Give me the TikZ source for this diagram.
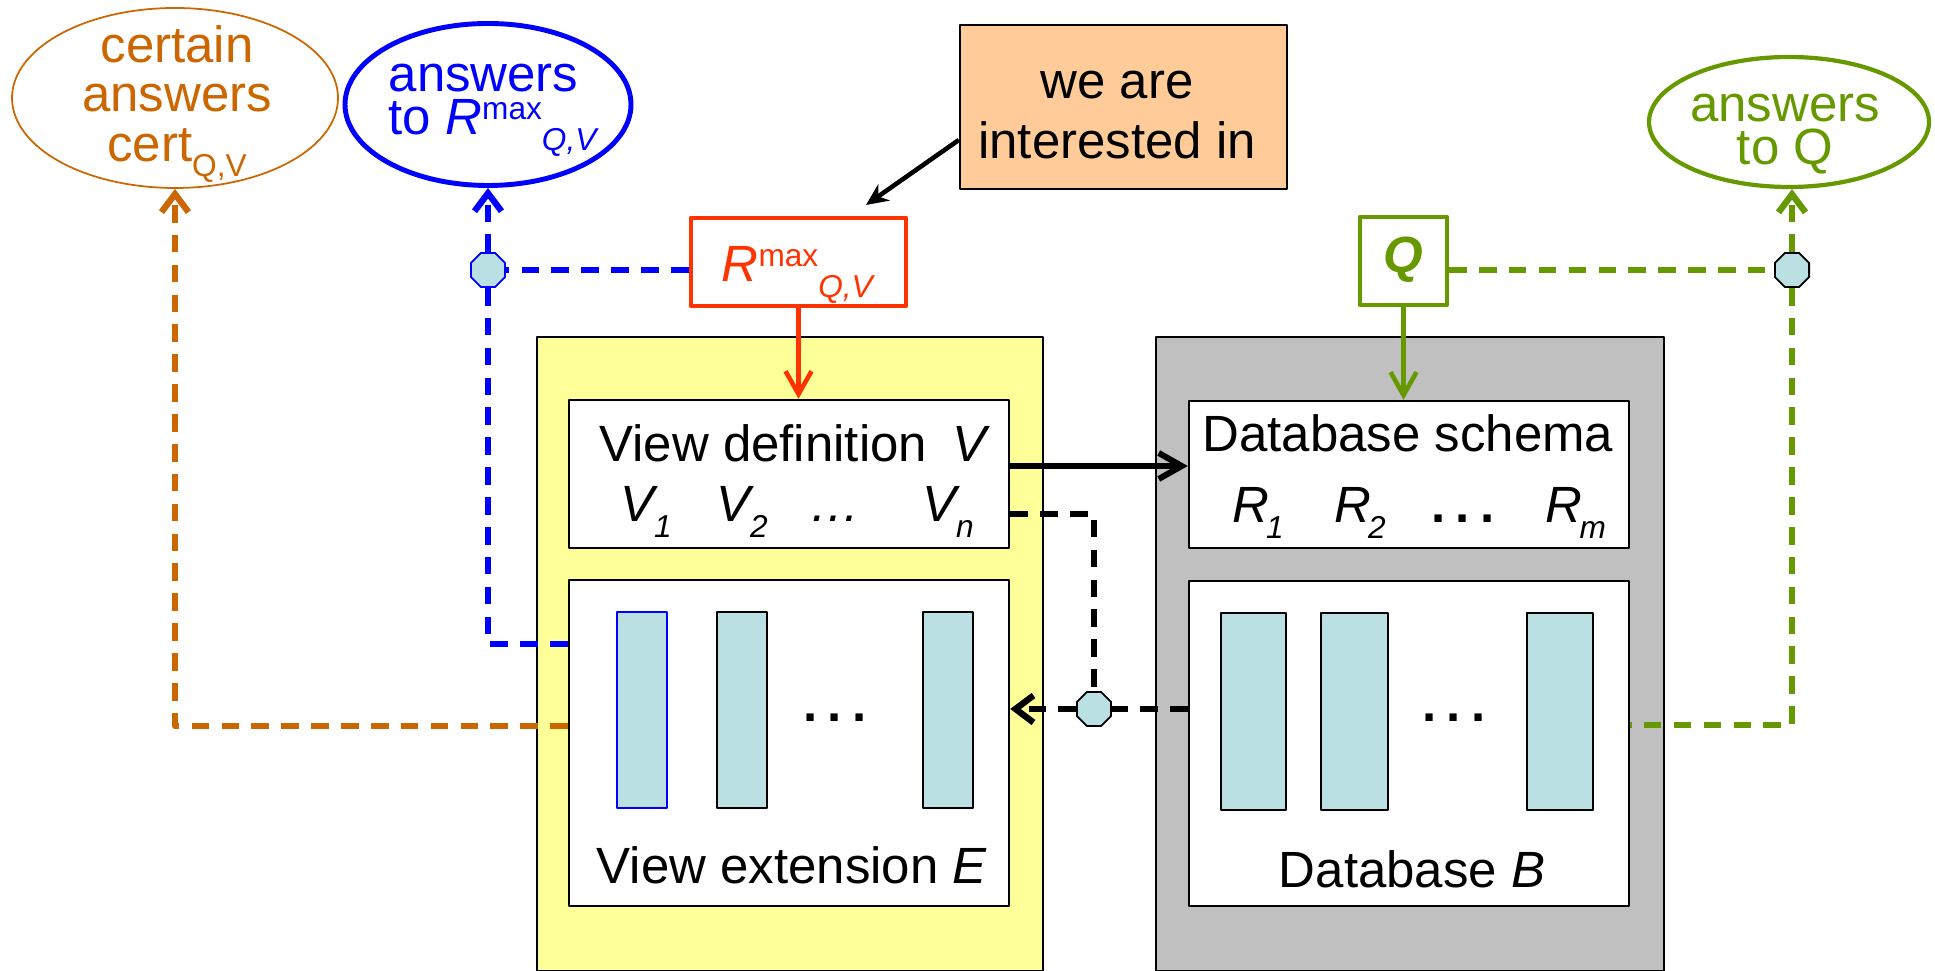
\documentclass[tikz,border=0pt]{standalone}
\usepackage{fontspec}
\setmainfont{Liberation Sans}
\usetikzlibrary{arrows.meta,shapes.geometric,positioning}

\definecolor{certcol}{RGB}{204,102,0}
\definecolor{maxcol}{RGB}{0,0,255}
\definecolor{qcol}{RGB}{102,153,0}
\definecolor{rcol}{RGB}{255,51,0}
\definecolor{notecol}{RGB}{255,204,153}
\definecolor{viewcol}{RGB}{255,255,153}
\definecolor{dbcol}{RGB}{192,192,192}
\definecolor{relcol}{RGB}{187,224,227}

\newcommand\upidx[1]{\raisebox{0.3em}{\fontsize{9}{9}\selectfont #1}}
\newcommand\dnidx[1]{\raisebox{-0.3em}{\fontsize{9}{9}\selectfont #1}}
\newcommand\bdots{\textbf{.\hspace{0.2em}.\hspace{0.2em}.}}

\tikzset{
  panel/.style={draw,line width=0.6pt,minimum height=6.34cm,anchor=north west},
  wbox/.style={draw,fill=white,line width=0.7pt,minimum width=4.40cm},
  rel/.style={draw,fill=relcol,line width=0.7pt},
  joint/.style={regular polygon,regular polygon sides=8,draw,line width=0.5pt,fill=relcol,inner sep=0pt,minimum size=0.37cm},
  oval/.style={ellipse,draw,inner sep=0pt},
  flow/.style={dash pattern=on 5pt off 3.5pt,line width=1.8pt},
  barb/.style={-{Straight Barb[length=0.23cm,width=0.26cm]}},
  dbarb/.style={-{Straight Barb[length=0.18cm,width=0.27cm]}}
}

\begin{document}
\begin{tikzpicture}[line join=round,font=\fontsize{14.5}{17.6}\selectfont]
\useasboundingbox (0,0) rectangle (19.35,-9.71);

% the two sides: views and database
\node[panel,fill=viewcol,minimum width=5.06cm] (vpanel) at (5.36,-3.36) {};
\node[panel,fill=dbcol,minimum width=5.08cm] (dpanel) at (11.55,-3.36) {};

\node[wbox,minimum height=1.48cm] (vdef) at (7.89,-4.74) {};
\node[wbox,minimum height=3.26cm] (vext) at (7.89,-7.43) {};
\node[wbox,minimum height=1.47cm] (schema) at (14.09,-4.745) {};
\node[wbox,minimum height=3.25cm] (db) at (14.09,-7.435) {};

\node[anchor=base] (vdeft) at (7.95,-4.62) {View definition\enspace\textit{V}};
\node[anchor=base] (v1) at (6.46,-5.22) {\textit{V}\kern-0.08em\dnidx{\textit{1}}};
\node[anchor=base] (v2) at (7.42,-5.22) {\textit{V}\kern-0.08em\dnidx{\textit{2}}};
\node[anchor=base] (vd) at (8.35,-5.22) {\textit{\ldots}};
\node[anchor=base] (vn) at (9.48,-5.22) {\textit{V}\kern-0.08em\dnidx{\textit{n}}};

\draw[rel,draw=maxcol] (6.17,-6.12) rectangle (6.67,-8.08);
\foreach \a/\b in {7.17/7.67,9.23/9.73}
  \draw[rel] (\a,-6.12) rectangle (\b,-8.08);
\node (vextd) at (8.35,-7.18) {\bdots};
\node[anchor=base] (vextt) at (7.92,-8.83) {View extension \textit{E}};

\node[anchor=base] (schemat) at (14.08,-4.52) {Database schema};
\node[anchor=base] (r1) at (12.58,-5.23) {\textit{R}\kern-0.06em\dnidx{\textit{1}}};
\node[anchor=base] (r2) at (13.60,-5.23) {\textit{R}\kern-0.06em\dnidx{\textit{2}}};
\node[anchor=base] (rd) at (14.63,-5.23) {\bdots};
\node[anchor=base] (rm) at (15.76,-5.23) {\textit{R}\kern-0.06em\dnidx{\textit{m}}};

\foreach \a/\b in {12.21/12.86,13.21/13.88,15.27/15.93}
  \draw[rel] (\a,-6.13) rectangle (\b,-8.10);
\node (dbd) at (14.54,-7.18) {\bdots};
\node[anchor=base] (dbt) at (14.12,-8.87) {Database \textit{B}};

% queries and answers
\node[draw=rcol,line width=1.4pt,text=rcol,minimum width=2.15cm,minimum height=0.88cm,text height=0.40cm,text depth=0pt] (rmax) at (7.985,-2.62) {\textit{R}\upidx{max}\dnidx{\textit{Q,V}}};
\node[draw=qcol,line width=1.2pt,text=qcol,minimum width=0.87cm,minimum height=0.88cm,text height=0.24cm,text depth=0pt,font=\fontsize{14.5}{17.6}\selectfont\bfseries\itshape] (qbox) at (14.035,-2.61) {Q};
\node[draw,fill=notecol,line width=0.7pt,minimum width=3.27cm,minimum height=1.64cm] (note) at (11.235,-1.07) {};
\node[align=center,font=\fontsize{14.5}{17}\selectfont] (notet) at (11.17,-1.15) {we are\\interested in};
\coordinate (notetip) at (8.66,-2.05);

\node[oval,draw=certcol,line width=0.5pt,minimum width=3.26cm,minimum height=1.80cm] (cert) at (1.75,-0.98) {};
\node[text=certcol,align=center,font=\fontsize{14.5}{14.1}\selectfont] (certt) at (1.77,-1.04) {certain\\answers\\cert\dnidx{Q,V}};
\node[oval,draw=maxcol,line width=1.4pt,minimum width=2.86cm,minimum height=1.62cm] (maxans) at (4.88,-1.045) {};
\node[text=maxcol,align=left,inner sep=0pt,anchor=west,font=\fontsize{14.5}{12.4}\selectfont] (maxanst) at (3.88,-1.10) {answers\\to \textit{R}\upidx{max}\dnidx{\textit{Q,V}}};
\node[oval,draw=qcol,line width=1.2pt,minimum width=2.80cm,minimum height=1.30cm] (qans) at (17.89,-1.22) {};
\node[text=qcol,align=center,font=\fontsize{14.5}{12.2}\selectfont] (qanst) at (17.85,-1.34) {answers\\to Q};

\node[joint,draw=maxcol] (jmax) at (4.88,-2.70) {};
\node[joint] (jq) at (17.92,-2.70) {};
\node[joint] (jview) at (10.94,-7.09) {};

% solid arrows
\draw[rcol,line width=1.3pt,barb] (rmax.south) -- (rmax.south |- vdef.north);
\draw[qcol,line width=1.3pt,barb] (qbox.south) -- (qbox.south |- schema.north);
\draw[line width=1.7pt,barb] ([yshift=0.08cm]vdef.east) -- ([yshift=0.08cm]vdef.east -| schema.west);
\draw[line width=1.3pt,-{Stealth[length=0.22cm,width=0.2cm]}] ([yshift=-0.33cm]note.west) -- (notetip);

% dashed flows
\draw[flow,maxcol] (rmax.west |- jmax.east) -- (jmax.east);
\draw[flow,maxcol,dbarb] (jmax.north) -- (maxans.south);
\draw[flow,maxcol] (jmax.south) |- ([yshift=0.99cm]vext.west);
\draw[flow,certcol,dbarb] ([yshift=0.17cm]vext.west) -| (cert.south);
\draw[flow,qcol] (qbox.east |- jq.west) -- (jq.west);
\draw[flow,qcol,dbarb] (jq.north) -- (jq.north |- qans.south);
\draw[flow,qcol] (jq.south) |- ([yshift=0.185cm]db.east);
\draw[flow] ([yshift=-0.40cm]vdef.east) -| (jview.north);
\draw[flow] (jview.east -| db.west) -- (jview.east);
\draw[flow,dbarb] (jview.west) -- (jview.west -| vext.east);
\end{tikzpicture}
\end{document}
